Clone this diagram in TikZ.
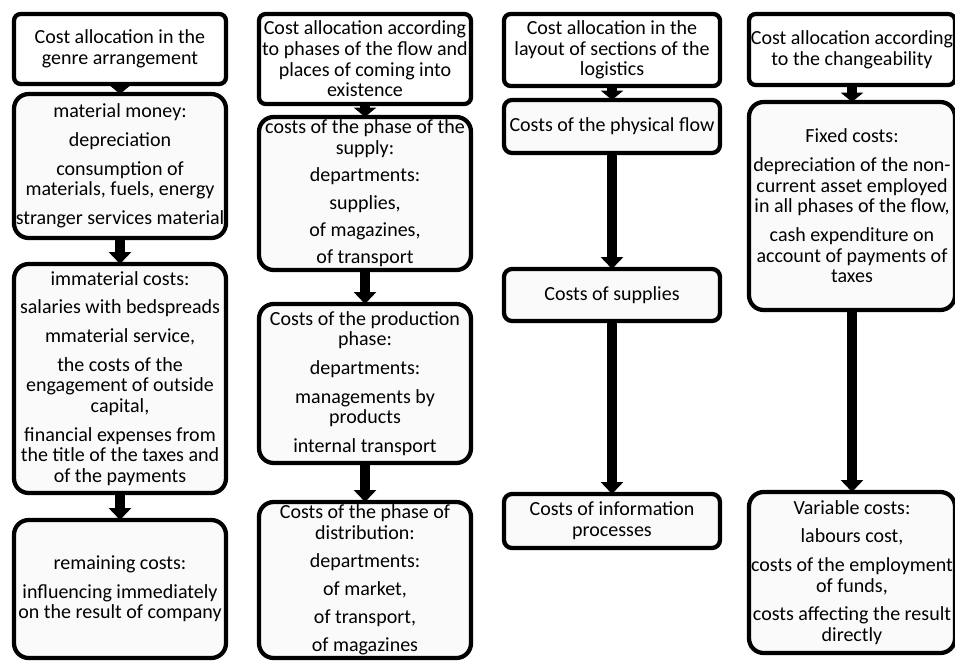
\documentclass[tikz,border=0pt]{standalone}
\usepackage{fontspec}
\setmainfont{Carlito}
\usepackage{tikz}
\usetikzlibrary{positioning, arrows.meta}
\definecolor{boxgray}{RGB}{250,250,250}
\tikzstyle{headbox} = [draw, line width=3.2pt, rounded corners=5pt, fill=white, align=center, inner xsep=0pt, inner ysep=0pt, outer sep=0pt, minimum width=159pt, font=\fontsize{15}{15.5}\selectfont]
\tikzstyle{costbox} = [headbox, rounded corners=11pt, fill=boxgray]
\tikzstyle{arrow} = [line width=7pt, -{Triangle[width=16.5pt,length=9pt]}]
\tikzstyle{shortarrow} = [line width=7pt, -{Triangle[width=16.5pt,length=7pt]}]

\begin{document}
\begin{tikzpicture}[x=0.75pt, y=-0.75pt]
\useasboundingbox (0,0) rectangle (955,664);
% genre arrangement
\node (genre) [headbox, anchor=north west, minimum height=52.5pt] at (14,14) {Cost allocation in the\\genre arrangement};
\node (material) [costbox, below=7.5pt of genre, minimum height=108pt] {material money:\\[6pt]depreciation\\[6pt]consumption of\\materials, fuels, energy\\[6pt]stranger services material};
\node (immaterial) [costbox, below=19.5pt of material, minimum height=171.75pt] {immaterial costs:\\[6pt]salaries with bedspreads\\[6pt]mmaterial service,\\[6pt]the costs of the\\engagement of outside\\capital,\\[6pt]financial expenses from\\the title of the taxes and\\of the payments};
\node (remaining) [costbox, below=20.25pt of immaterial, minimum height=103.5pt] {remaining costs:\\[6pt]influencing immediately\\on the result of company};
% phases of the flow
\node (phases) [headbox, anchor=north west, minimum height=67.5pt] at (259,14) {Cost allocation according\\to phases of the flow and\\places of coming into\\existence};
\node (supply) [costbox, below=9.75pt of phases, minimum height=114.75pt] {costs of the phase of the\\supply:\\[5pt]departments:\\[5pt]supplies,\\[5pt]of magazines,\\[5pt]of transport};
\node (production) [costbox, below=25.5pt of supply, minimum height=119.25pt] {Costs of the production\\phase:\\[6pt]departments:\\[6pt]managements by\\products\\[6pt]internal transport};
\node (distribution) [costbox, below=29.25pt of production, minimum height=117pt] {Costs of the phase of\\distribution:\\[5.5pt]departments:\\[5.5pt]of market,\\[5.5pt]of transport,\\[5.5pt]of magazines};
% sections of the logistics
\node (logistics) [headbox, anchor=north west, minimum width=162pt, minimum height=54pt] at (504,14) {Cost allocation in the\\layout of sections of the\\logistics};
\node (physical) [costbox, rounded corners=6pt, below=10.5pt of logistics, minimum width=162pt, minimum height=39.75pt] {Costs of the physical flow};
\node (supplies) [costbox, rounded corners=6pt, below=87pt of physical, minimum width=162pt, minimum height=39pt] {Costs of supplies};
\node (information) [costbox, rounded corners=6pt, below=129.75pt of supplies, minimum width=162pt, minimum height=40.5pt] {Costs of information\\processes};
% changeability
\node (change) [headbox, anchor=north west, minimum width=154.5pt, minimum height=53.25pt] at (749,14) {Cost allocation according\\to the changeability};
\node (fixed) [costbox, below=12.75pt of change, minimum width=154.5pt, minimum height=156pt] {Fixed costs:\\[6pt]depreciation of the non-\\current asset employed\\in all phases of the flow,\\[6pt]cash expenditure on\\account of payments of\\taxes};
\node (variable) [costbox, below=136.5pt of fixed, minimum width=154.5pt, minimum height=120.75pt] {Variable costs:\\[6pt]labours cost,\\[6pt]costs of the employment\\of funds,\\[6pt]costs affecting the result\\directly};

\draw [shortarrow] (genre) -- (material);
\draw [arrow] (material) -- (immaterial);
\draw [arrow] (immaterial) -- (remaining);
\draw [shortarrow] (phases) -- (supply);
\draw [arrow] (supply) -- (production);
\draw [arrow] (production) -- (distribution);
\draw [shortarrow] (logistics) -- (physical);
\draw [arrow] (physical) -- (supplies);
\draw [arrow] (supplies) -- (information);
\draw [shortarrow] (change) -- (fixed);
\draw [arrow] (fixed) -- (variable);
\end{tikzpicture}
\end{document}
